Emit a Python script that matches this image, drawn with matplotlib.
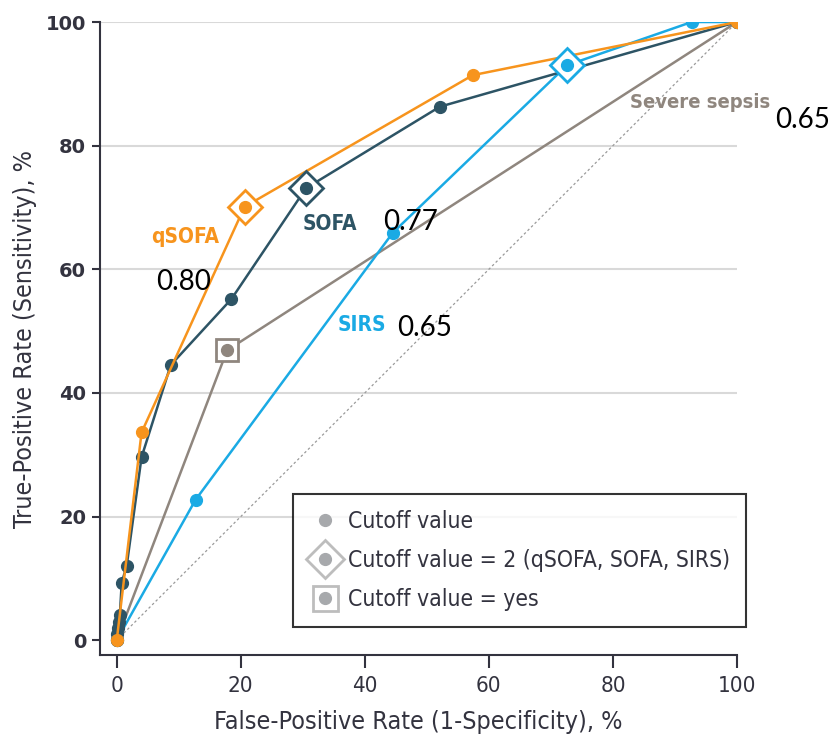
import matplotlib

matplotlib.use("Agg")
import matplotlib.pyplot as plt
from matplotlib.legend_handler import HandlerTuple
from matplotlib.lines import Line2D

# ROC points (false-positive rate %, true-positive rate %)
qsofa_fpr = [0, 4.0, 20.6, 57.4, 100]
qsofa_tpr = [0, 33.6, 70.1, 91.4, 100]
qsofa_cut2 = 2  # index of cutoff value = 2

sofa_fpr = [0, 0.1, 0.2, 0.3, 0.5, 0.8, 1.6, 4.0, 8.7, 18.5, 30.5, 52.1, 100]
sofa_tpr = [0, 1.0, 2.0, 3.0, 4.0, 9.3, 12.0, 29.6, 44.5, 55.2, 73.1, 86.3, 100]
sofa_cut2 = 10

sirs_fpr = [0, 12.7, 44.5, 72.6, 92.7, 100]
sirs_tpr = [0, 22.7, 65.9, 93.0, 100, 100]
sirs_cut2 = 3

sepsis_fpr = [0, 17.8, 100]
sepsis_tpr = [0, 46.9, 100]
sepsis_yes = 1

ticks = [0, 20, 40, 60, 80, 100]

ORANGE = "#F7941D"
SOFA_C = "#2D5465"
BLUE = "#1AAAE4"
TAUPE = "#8F867E"
GRID = "#D9D9D9"
TXT = "#33333F"

plt.rcParams["font.family"] = ["DejaVu Sans"]
plt.rcParams["font.stretch"] = "condensed"

fig = plt.figure(figsize=(8.32, 7.37), dpi=100)
ax = fig.add_axes([100 / 832, 82 / 737, 637 / 832, 633 / 737])
ax.set_xlim(-2.7, 100)
ax.set_ylim(-2.4, 100)

for t in ticks[1:]:
    ax.axhline(t, color=GRID, lw=1.5, zorder=0)
ax.plot([0, 100], [0, 100], color="#9A9A9A", lw=0.9, ls=(0, (2, 2)), zorder=1)


def draw_curve(x, y, color, special, marker):
    ax.plot(x, y, color=color, lw=1.8, marker="o", ms=8.5, zorder=3)
    ax.plot(
        x[special], y[special], marker=marker, ms=17 if marker == "D" else 16,
        mfc="white", mec=color, mew=2, ls="none", zorder=4,
    )
    ax.plot(x[special], y[special], marker="o", ms=8.5, color=color, ls="none", zorder=5)


draw_curve(sepsis_fpr, sepsis_tpr, TAUPE, sepsis_yes, "s")
draw_curve(sirs_fpr, sirs_tpr, BLUE, sirs_cut2, "D")
draw_curve(sofa_fpr, sofa_tpr, SOFA_C, sofa_cut2, "D")
draw_curve(qsofa_fpr, qsofa_tpr, ORANGE, qsofa_cut2, "D")

for s in ["top", "right"]:
    ax.spines[s].set_visible(False)
for s in ["left", "bottom"]:
    ax.spines[s].set_color(TXT)
    ax.spines[s].set_linewidth(1.5)
ax.set_xticks(ticks)
ax.set_yticks(ticks)
ax.tick_params(width=1.5, color=TXT, labelcolor=TXT)
ax.tick_params(axis="x", length=9, pad=6, labelsize=16)
ax.tick_params(axis="y", length=6, pad=4, labelsize=14)
for lab in ax.get_yticklabels():
    lab.set_fontstretch("normal")
    lab.set_fontweight("bold")
ax.set_xlabel("False-Positive Rate (1-Specificity), %", fontsize=18, color=TXT, labelpad=10)
ax.set_ylabel("True-Positive Rate (Sensitivity), %", fontsize=18, color=TXT, labelpad=6)

ax.text(11.0, 65.2, "qSOFA", color=ORANGE, fontsize=15, fontweight="bold", ha="center", va="center")
ax.text(34.4, 67.3, "SOFA", color=SOFA_C, fontsize=15, fontweight="bold", ha="center", va="center")
ax.text(39.5, 51.0, "SIRS", color=BLUE, fontsize=15, fontweight="bold", ha="center", va="center")
ax.text(94.0, 86.9, "Severe sepsis", color=TAUPE, fontsize=14.5, fontweight="bold", ha="center", va="center")

auc_kw = dict(color="black", fontsize=20, family=["Lato", "DejaVu Sans"], stretch="normal",
              ha="center", va="center", clip_on=False)
ax.text(10.8, 57.9, "0.80", **auc_kw)
ax.text(47.4, 67.6, "0.77", **auc_kw)
ax.text(49.7, 50.5, "0.65", **auc_kw)
ax.text(110.6, 84.1, "0.65", **auc_kw)

LG = "#A7A9AC"
h_dot = Line2D([], [], marker="o", ms=8.5, color=LG, ls="none")
h_dia = Line2D([], [], marker="D", ms=19, mfc="white", mec="#BDBDBD", mew=2, ls="none")
h_sq = Line2D([], [], marker="s", ms=18, mfc="white", mec="#BDBDBD", mew=2, ls="none")
leg = ax.legend(
    [h_dot, (h_dia, h_dot), (h_sq, h_dot)],
    ["Cutoff value", "Cutoff value = 2 (qSOFA, SOFA, SIRS)", "Cutoff value = yes"],
    handler_map={tuple: HandlerTuple(ndivide=1)},
    loc="lower left",
    bbox_to_anchor=(293 / 832, 110 / 737),
    bbox_transform=fig.transFigure,
    fontsize=16.5,
    frameon=True,
    fancybox=False,
    edgecolor="black",
    handlelength=1.4,
    handletextpad=0.3,
    labelspacing=0.7,
    borderpad=0.7,
    borderaxespad=0,
)
leg.get_frame().set_linewidth(1.5)
for t in leg.get_texts():
    t.set_color(TXT)

fig.savefig("out.png", dpi=100)
